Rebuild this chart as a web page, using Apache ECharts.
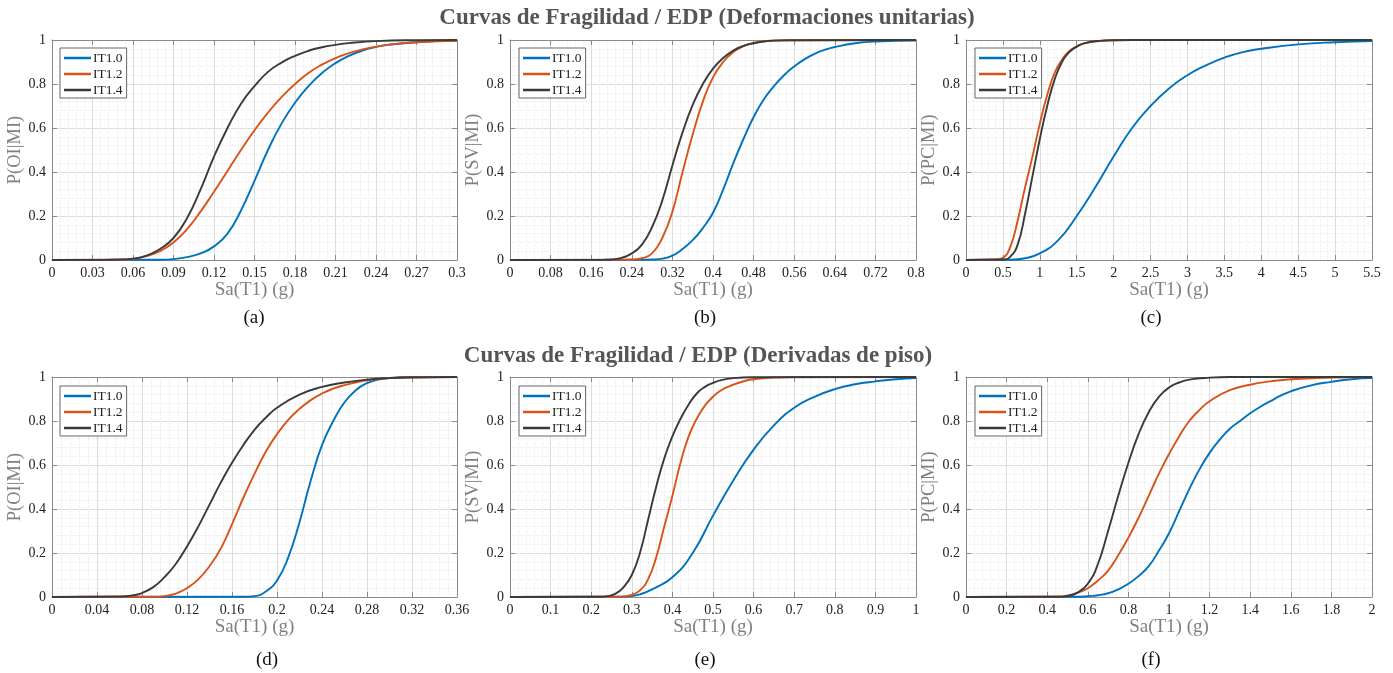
<!DOCTYPE html>
<html>
<head>
<meta charset="utf-8">
<script src="https://cdn.jsdelivr.net/npm/echarts@6.0.0/dist/echarts.min.js"></script>
<style>html,body{margin:0;padding:0;background:#fff;}#c{width:1393px;height:673px;}</style>
</head>
<body>
<div id="c"></div>
<script>
// ---------- DATA ----------
const SERIES_NAMES = ['IT1.0', 'IT1.2', 'IT1.4'];
const TITLE_TOP = 'Curvas de Fragilidad / EDP (Deformaciones unitarias)';
const TITLE_BOTTOM = 'Curvas de Fragilidad / EDP (Derivadas de piso)';
const PANEL_LABELS = ['(a)', '(b)', '(c)', '(d)', '(e)', '(f)'];
const Y_NAMES = ['P(OI|MI)', 'P(SV|MI)', 'P(PC|MI)', 'P(OI|MI)', 'P(SV|MI)', 'P(PC|MI)'];
const X_NAME = 'Sa(T1) (g)';
const X_MAX = [0.3, 0.8, 5.5, 0.36, 1, 2];
const X_STEP = [0.03, 0.08, 0.5, 0.04, 0.1, 0.2];

// (a)
const A_IT10_X = [0,0.08,0.09,0.10,0.11,0.12,0.13,0.14,0.15,0.16,0.17,0.18,0.19,0.20,0.21,0.22,0.23,0.24,0.25,0.27,0.30];
const A_IT10_Y = [0,0.001,0.004,0.013,0.03,0.062,0.12,0.225,0.36,0.50,0.62,0.715,0.79,0.85,0.895,0.928,0.952,0.968,0.979,0.99,0.997];
const A_IT12_X = [0,0.05,0.06,0.07,0.08,0.09,0.10,0.11,0.12,0.13,0.14,0.15,0.16,0.17,0.18,0.19,0.20,0.21,0.22,0.23,0.24,0.25,0.27,0.30];
const A_IT12_Y = [0,0.001,0.005,0.018,0.04,0.08,0.14,0.22,0.31,0.405,0.50,0.59,0.67,0.74,0.80,0.85,0.888,0.918,0.94,0.957,0.97,0.979,0.99,0.996];
const A_IT14_X = [0,0.04,0.05,0.06,0.07,0.08,0.09,0.10,0.11,0.12,0.13,0.14,0.15,0.16,0.17,0.18,0.19,0.20,0.21,0.22,0.24,0.27,0.30];
const A_IT14_Y = [0,0.0005,0.002,0.006,0.02,0.05,0.10,0.19,0.32,0.47,0.60,0.71,0.79,0.855,0.897,0.928,0.951,0.967,0.978,0.986,0.995,0.999,1];
// (b)
const B_IT10_X = [0,0.26,0.28,0.30,0.32,0.34,0.36,0.38,0.40,0.42,0.44,0.46,0.48,0.50,0.52,0.54,0.56,0.58,0.60,0.62,0.64,0.68,0.72,0.80];
const B_IT10_Y = [0,0.001,0.002,0.006,0.02,0.05,0.09,0.145,0.215,0.32,0.44,0.55,0.65,0.73,0.79,0.84,0.88,0.912,0.937,0.955,0.968,0.985,0.993,0.998];
const B_IT12_X = [0,0.22,0.24,0.26,0.28,0.30,0.32,0.34,0.36,0.38,0.40,0.42,0.44,0.46,0.48,0.50,0.54,0.80];
const B_IT12_Y = [0,0.0005,0.002,0.008,0.03,0.10,0.22,0.40,0.57,0.72,0.83,0.90,0.945,0.972,0.986,0.994,0.999,1];
const B_IT14_X = [0,0.18,0.20,0.22,0.24,0.26,0.28,0.30,0.32,0.34,0.36,0.38,0.40,0.42,0.44,0.46,0.48,0.50,0.52,0.56,0.80];
const B_IT14_Y = [0,0.0005,0.002,0.01,0.03,0.07,0.15,0.27,0.43,0.58,0.705,0.80,0.87,0.918,0.952,0.973,0.985,0.993,0.997,0.999,1];
// (c)
const C_IT10_X = [0,0.6,0.8,1.0,1.25,1.5,1.75,2.0,2.25,2.5,2.75,3.0,3.25,3.5,3.75,4.0,4.5,5.0,5.5];
const C_IT10_Y = [0,0.001,0.008,0.03,0.09,0.20,0.33,0.47,0.60,0.70,0.78,0.84,0.885,0.92,0.945,0.96,0.98,0.99,0.995];
const C_IT12_X = [0,0.4,0.5,0.6,0.7,0.8,0.9,1.0,1.1,1.2,1.3,1.4,1.5,1.6,1.8,2.0,2.5,5.5];
const C_IT12_Y = [0,0.002,0.01,0.06,0.18,0.33,0.47,0.62,0.75,0.85,0.91,0.95,0.97,0.985,0.995,0.999,1,1];
const C_IT14_X = [0,0.5,0.6,0.7,0.8,0.9,1.0,1.1,1.2,1.3,1.4,1.5,1.6,1.8,2.0,2.5,5.5];
const C_IT14_Y = [0,0.002,0.015,0.07,0.21,0.38,0.55,0.70,0.82,0.90,0.945,0.97,0.985,0.996,0.999,1,1];
// (d)
const D_IT10_X = [0,0.17,0.18,0.19,0.20,0.21,0.22,0.23,0.24,0.25,0.26,0.27,0.28,0.29,0.30,0.32,0.36];
const D_IT10_Y = [0,0.001,0.004,0.025,0.075,0.18,0.34,0.53,0.69,0.80,0.885,0.94,0.972,0.988,0.996,1,1];
const D_IT12_X = [0,0.09,0.10,0.11,0.12,0.13,0.14,0.15,0.16,0.17,0.18,0.19,0.20,0.21,0.22,0.23,0.24,0.25,0.26,0.27,0.28,0.30,0.32,0.36];
const D_IT12_Y = [0,0.001,0.004,0.015,0.04,0.08,0.14,0.22,0.33,0.45,0.56,0.66,0.74,0.805,0.855,0.895,0.925,0.947,0.963,0.975,0.985,0.995,0.999,1];
const D_IT14_X = [0,0.06,0.07,0.08,0.09,0.10,0.11,0.12,0.13,0.14,0.15,0.16,0.17,0.18,0.19,0.20,0.22,0.24,0.26,0.28,0.30,0.32,0.36];
const D_IT14_Y = [0,0.002,0.006,0.018,0.045,0.09,0.15,0.23,0.32,0.42,0.52,0.61,0.69,0.76,0.815,0.86,0.92,0.955,0.975,0.988,0.995,0.998,1];
// (e)
const E_IT10_X = [0,0.28,0.30,0.32,0.35,0.40,0.45,0.50,0.55,0.60,0.65,0.70,0.75,0.80,0.85,0.90,0.95,1.0];
const E_IT10_Y = [0,0.001,0.005,0.012,0.035,0.09,0.20,0.37,0.53,0.67,0.78,0.86,0.91,0.945,0.967,0.98,0.99,0.995];
const E_IT12_X = [0,0.26,0.28,0.30,0.32,0.34,0.36,0.38,0.40,0.42,0.44,0.46,0.48,0.50,0.52,0.55,0.58,0.60,0.65,0.70,1.0];
const E_IT12_Y = [0,0.001,0.003,0.01,0.03,0.08,0.18,0.32,0.46,0.61,0.73,0.81,0.87,0.91,0.94,0.965,0.983,0.99,0.998,1,1];
const E_IT14_X = [0,0.22,0.24,0.26,0.28,0.30,0.32,0.34,0.36,0.38,0.40,0.42,0.44,0.46,0.48,0.50,0.52,0.55,0.60,1.0];
const E_IT14_Y = [0,0.001,0.004,0.015,0.045,0.10,0.20,0.35,0.50,0.63,0.73,0.81,0.875,0.925,0.955,0.973,0.986,0.995,0.999,1];
// (f)
const F_IT10_X = [0,0.55,0.6,0.65,0.7,0.75,0.8,0.85,0.9,0.95,1.0,1.05,1.1,1.15,1.2,1.25,1.3,1.35,1.4,1.45,1.5,1.55,1.6,1.7,1.8,1.9,2.0];
const F_IT10_Y = [0,0.001,0.004,0.008,0.017,0.035,0.06,0.095,0.14,0.21,0.29,0.39,0.49,0.58,0.655,0.715,0.765,0.80,0.835,0.865,0.89,0.915,0.935,0.962,0.978,0.99,0.995];
const F_IT12_X = [0,0.45,0.5,0.55,0.6,0.65,0.7,0.75,0.8,0.85,0.9,0.95,1.0,1.05,1.1,1.15,1.2,1.3,1.4,1.5,1.6,1.8,2.0];
const F_IT12_Y = [0,0.001,0.006,0.02,0.04,0.075,0.12,0.19,0.27,0.36,0.46,0.56,0.65,0.73,0.80,0.85,0.89,0.94,0.965,0.98,0.99,0.998,1];
const F_IT14_X = [0,0.45,0.5,0.55,0.6,0.65,0.7,0.75,0.8,0.85,0.9,0.95,1.0,1.05,1.1,1.2,1.3,2.0];
const F_IT14_Y = [0,0.001,0.005,0.02,0.06,0.15,0.30,0.46,0.61,0.74,0.84,0.91,0.952,0.975,0.988,0.997,1,1];

const PANELS = [
  [[A_IT10_X, A_IT10_Y], [A_IT12_X, A_IT12_Y], [A_IT14_X, A_IT14_Y]],
  [[B_IT10_X, B_IT10_Y], [B_IT12_X, B_IT12_Y], [B_IT14_X, B_IT14_Y]],
  [[C_IT10_X, C_IT10_Y], [C_IT12_X, C_IT12_Y], [C_IT14_X, C_IT14_Y]],
  [[D_IT10_X, D_IT10_Y], [D_IT12_X, D_IT12_Y], [D_IT14_X, D_IT14_Y]],
  [[E_IT10_X, E_IT10_Y], [E_IT12_X, E_IT12_Y], [E_IT14_X, E_IT14_Y]],
  [[F_IT10_X, F_IT10_Y], [F_IT12_X, F_IT12_Y], [F_IT14_X, F_IT14_Y]]
];

// ---------- STYLE / LAYOUT ----------
const COLORS = ['#0072BD', '#D95319', '#3a3a3a'];
const FONT = '"Liberation Serif", "Times New Roman", serif';
const COLS = [{ left: 52, width: 405 }, { left: 510, width: 406 }, { left: 966, width: 406 }];
const ROWS = [{ top: 40, height: 220 }, { top: 377, height: 220 }];
const LEGEND_POS = [[60, 48], [519, 48], [975, 48], [60, 386], [519, 386], [975, 386]];
const PANEL_LABEL_POS = [[254, 318], [705, 318], [1151, 318], [267, 660], [705, 660], [1151, 660]];

const fmt = v => String(Math.round(v * 1e6) / 1e6);
const frameColor = '#8a8a8a';

const grids = [], xAxes = [], yAxes = [], series = [], legends = [];
for (let i = 0; i < 6; i++) {
  const c = COLS[i % 3], r = ROWS[Math.floor(i / 3)];
  grids.push({ left: c.left, top: r.top, width: c.width, height: r.height, containLabel: false });
  const common = {
    type: 'value', gridIndex: i, min: 0,
    axisLine: { show: true, onZero: false, lineStyle: { color: frameColor, width: 1 } },
    axisTick: { show: true, inside: true, length: 5, lineStyle: { color: frameColor } },
  };
  xAxes.push(Object.assign({}, common, {
    position: 'bottom', max: X_MAX[i], interval: X_STEP[i],
    name: X_NAME, nameLocation: 'middle', nameGap: 21,
    nameTextStyle: { fontFamily: FONT, fontSize: 19, color: '#808080' },
    axisLabel: { fontFamily: FONT, fontSize: 14, color: '#222', margin: 6, formatter: fmt, showMaxLabel: true, showMinLabel: true },
    splitLine: { show: true, lineStyle: { color: '#dcdcdc', width: 1 } },
    minorTick: { show: false, splitNumber: 5 },
    minorSplitLine: { show: true, lineStyle: { color: '#ebebeb', type: 'dotted', width: 1 } }
  }));
  xAxes.push(Object.assign({}, common, {
    position: 'top', max: X_MAX[i], interval: X_STEP[i],
    axisLabel: { show: false }, splitLine: { show: false }
  }));
  yAxes.push(Object.assign({}, common, {
    position: 'left', max: 1, interval: 0.2,
    name: Y_NAMES[i], nameLocation: 'middle', nameGap: 19, nameRotate: 90,
    nameTextStyle: { fontFamily: FONT, fontSize: 18.5, color: '#808080' },
    axisLabel: { fontFamily: FONT, fontSize: 14, color: '#222', margin: 6, formatter: fmt },
    splitLine: { show: true, lineStyle: { color: '#dcdcdc', width: 1 } },
    minorTick: { show: false, splitNumber: 5 },
    minorSplitLine: { show: true, lineStyle: { color: '#ebebeb', type: 'dotted', width: 1 } }
  }));
  yAxes.push(Object.assign({}, common, {
    position: 'right', max: 1, interval: 0.2,
    axisLabel: { show: false }, splitLine: { show: false }
  }));

  PANELS[i].forEach((curve, k) => {
    const xs = curve[0], ys = curve[1];
    series.push({
      type: 'line', name: SERIES_NAMES[k], xAxisIndex: 2 * i, yAxisIndex: 2 * i,
      data: xs.map((x, j) => [x, ys[j]]),
      smooth: true, showSymbol: false, symbol: 'none',
      lineStyle: { color: COLORS[k], width: 1.9 },
      itemStyle: { color: COLORS[k] },
      color: COLORS[k], animation: false, z: 3 + k
    });
  });

  legends.push({
    data: SERIES_NAMES, orient: 'vertical', left: LEGEND_POS[i][0], top: LEGEND_POS[i][1],
    icon: 'rect', itemWidth: 27, itemHeight: 2.5, itemGap: 2, selectedMode: false,
    padding: [3, 4, 1, 4], borderColor: '#666', borderWidth: 1, borderRadius: 0, backgroundColor: '#fff',
    textStyle: { fontFamily: FONT, fontSize: 13.5, color: '#222', padding: [0, 0, 0, -3] }
  });
}

const graphics = [
  { type: 'text', x: 707, y: 18, style: { text: TITLE_TOP, fill: '#555', font: 'bold 23px ' + FONT, align: 'center', verticalAlign: 'middle' } },
  { type: 'text', x: 698, y: 356, style: { text: TITLE_BOTTOM, fill: '#555', font: 'bold 23px ' + FONT, align: 'center', verticalAlign: 'middle' } }
];
PANEL_LABELS.forEach((t, i) => {
  graphics.push({ type: 'text', x: PANEL_LABEL_POS[i][0], y: PANEL_LABEL_POS[i][1],
    style: { text: t, fill: '#111', font: '19px ' + FONT, align: 'center', verticalAlign: 'middle' } });
});

const chart = echarts.init(document.getElementById('c'), null, { renderer: 'canvas' });
chart.setOption({
  backgroundColor: '#fff',
  animation: false,
  grid: grids, xAxis: xAxes, yAxis: yAxes, series: series, legend: legends,
  graphic: graphics
});
</script>
</body>
</html>
